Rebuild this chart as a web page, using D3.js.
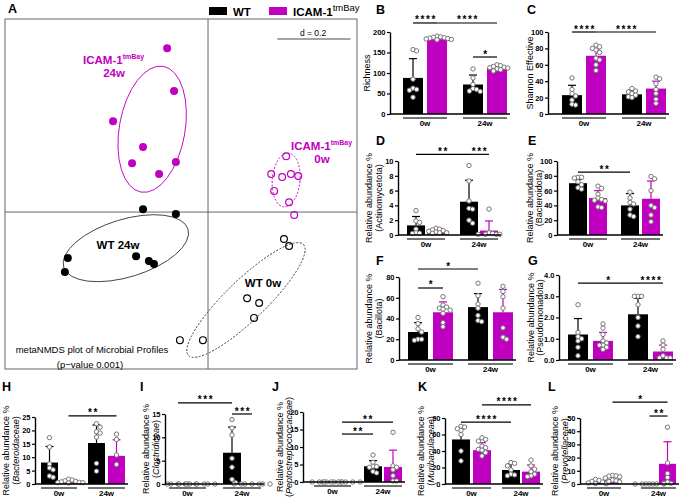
<!DOCTYPE html>
<html>
<head>
<meta charset="utf-8">
<script src="https://cdn.jsdelivr.net/npm/d3@7"></script>
<style>
  body { margin: 0; background: #fff; }
  svg { font-family: "Liberation Sans", Arial, sans-serif; }
</style>
</head>
<body>
<div id="chart"></div>
<script>
// colours
const MAG = "#c000c0";

// groups, left to right in every bar panel
const groups = ["WT 0w", "ICAM-1 0w", "WT 24w", "ICAM-1 24w"];
const timepoints = ["0w", "24w"];

// --- A: NMDS coordinates (x, y) ---
const nmdsIcam24 = [[-0.112, 0.449], [-0.093, 0.332], [-0.260, 0.249], [-0.178, 0.178], [-0.208, 0.134], [-0.088, 0.137], [-0.134, 0.104]];
const nmdsIcam0 = [[0.214, 0.153], [0.173, 0.104], [0.203, 0.096], [0.227, 0.104], [0.247, 0.099], [0.181, 0.058], [0.222, 0.027], [0.236, -0.008]];
const nmdsWt24 = [[-0.178, 0.008], [-0.088, -0.005], [-0.384, -0.126], [-0.392, -0.164], [-0.197, -0.121], [-0.162, -0.134], [-0.148, -0.142]];
const nmdsWt0 = [[0.208, -0.074], [0.222, -0.093], [0.107, -0.236], [0.140, -0.249], [0.126, -0.290], [-0.077, -0.351], [-0.014, -0.351]];
// ellipses: cx, cy, rx, ry, angle
const ellIcam24 = [-0.153, 0.227, 0.090, 0.175, 10];
const ellIcam0 = [0.214, 0.088, 0.038, 0.074, 5];
const ellWt24 = [-0.225, -0.099, 0.178, 0.079, -17];
const ellWt0 = [0.104, -0.241, 0.219, 0.055, -44];

// --- bar panels: mean, mean+SD, points ---
const richMean = [88, 185, 72, 112];
const richSd = [135, 189, 95, 117];
const richPts = [[157, 154, 85, 63, 41, 58, 60], [190, 188, 187, 186, 185, 184, 183, 182, 181], [110, 88, 72, 60, 55, 56, 62], [120, 118, 116, 114, 113, 112, 110, 108, 105]];

const shanMean = [23, 71, 24, 31];
const shanSd = [35, 78, 29, 40];
const shanPts = [[44, 25, 22, 17, 12, 11, 30], [84, 82, 80, 78, 75, 68, 66, 60, 53], [31, 28, 27, 25, 23, 21, 20], [45, 43, 37, 30, 25, 18, 13]];

const actiMean = [1.3, 0.5, 4.5, 0.6];
const actiSd = [2.5, 0.8, 7.4, 1.9];
const actiPts = [[3.3, 1.9, 1.7, 0.3, 0.25, 0.2, 0.8], [0.9, 0.8, 0.7, 0.6, 0.5, 0.4, 0.3, 0.3, 0.2], [9.4, 7.3, 4.6, 3.6, 3.5, 2.0, 1.6], [3.5, 0.3, 0.2, 0.1, 0.1, 0.1, 0.1]];

const bactMean = [70, 50, 40, 49];
const bactSd = [75, 60, 56, 73];
const bactPts = [[78, 78, 77, 68, 64, 62, 72], [66, 63, 55, 50, 48, 47, 46, 38, 37], [58, 50, 44, 42, 27, 25, 35], [79, 76, 60, 40, 37, 27, 18]];

const baciMean = [27, 46, 51, 46];
const baciSd = [36, 56, 64, 68];
const baciPts = [[41, 35, 30, 27, 20, 20, 19], [61, 53, 51, 50, 49, 48, 45, 36, 32], [74, 62, 54, 50, 43, 37, 38], [71, 66, 61, 50, 31, 22, 20]];

const pseuMean = [1.2, 0.9, 2.15, 0.4];
const pseuSd = [1.95, 1.3, 2.9, 0.7];
const pseuPts = [[2.6, 1.3, 1.1, 1.0, 0.9, 0.6, 0.2], [1.7, 1.5, 1.2, 0.9, 0.8, 0.7, 0.7, 0.6, 0.5], [3.0, 3.0, 3.0, 2.6, 2.0, 1.6, 1.1], [0.9, 0.7, 0.5, 0.1, 0.1, 0.1, 0.2]];

const bdaceMean = [8, 1, 15.3, 10.5];
const bdaceSd = [14, 1.4, 22, 16.5];
const bdacePts = [[17.3, 13.8, 7.5, 5.3, 3.0, 2.5, 6], [1.8, 1.5, 1.2, 1.0, 0.8, 0.6, 0.5, 0.5, 0.4], [22.5, 21.2, 19.5, 19.0, 17.5, 7.7, 4.8], [18.6, 16.6, 10.8, 7.3]];

const closMean = [0, 0, 6.7, 0];
const closSd = [0, 0, 12.2, 0];
const closPts = [[0, 0, 0, 0, 0, 0], [0, 0, 0, 0, 0, 0, 0], [13.8, 12, 10.5, 5.5, 3.6, 1.0, 0.3], [0, 0, 0, 0, 0, 0, 0]];

const peptMean = [0, 0, 4.5, 4.3];
const peptSd = [0, 0, 6.1, 9.1];
const peptPts = [[0, 0, 0, 0, 0, 0], [0, 0, 0, 0, 0, 0, 0], [7.7, 5.6, 4.5, 4.4, 4.2, 3.0, 2.6], [14.2, 4.6, 4.2, 3.5, 1.8, 0.3, 0.3]];

const muriMean = [54, 41, 17, 15];
const muriSd = [67, 50, 24, 23];
const muriPts = [[70, 69, 67, 65, 60, 40, 28], [56, 54, 52, 46, 44, 42, 41, 38, 34], [26, 25, 22, 17, 12, 11, 10], [29, 22, 18, 15, 12, 10, 9]];

const prevMean = [0.8, 3.5, 0, 15.3];
const prevSd = [1.8, 6, 0, 32];
const prevPts = [[3.5, 2.8, 2.0, 1.5, 0.8, 0.3, 0.2], [6.5, 6.2, 6.0, 5.5, 4.5, 3.0, 2.5, 2.0, 1.5], [0, 0, 0, 0, 0, 0, 0], [43, 16, 5, 1.5, 0.5, 0.5, 8]];

// significance: [from group, to group, label, height in axis units]
const richSig = [[0, 1, "****", 222], [1, 3, "****", 222], [2, 3, "*", 139]];
const shanSig = [[0, 1, "****", 100], [1, 3, "****", 100]];
const actiSig = [[0, 2, "**", 10.9], [2, 3, "***", 10.9]];
const bactSig = [[0, 2, "**", 85]];
const baciSig = [[0, 2, "*", 87.7], [0, 1, "*", 69.4]];
const pseuSig = [[0, 2, "*", 3.62], [2, 3, "****", 3.62]];
const bdaceSig = [[1, 3, "**", 25.4]];
const closSig = [[0, 2, "***", 17.4], [2, 3, "***", 15.0]];
const peptSig = [[1, 3, "**", 17.1], [1, 2, "**", 13.7]];
const muriSig = [[1, 3, "****", 95.8], [0, 2, "****", 75]];
const prevSig = [[1, 3, "*", 62], [2, 3, "**", 51.5]];

const svg = d3.select("#chart").append("svg")
  .attr("width", 685).attr("height", 499);

function letter(t, x, y) {
  svg.append("text").attr("x", x).attr("y", y)
    .attr("font-size", 12.5).attr("font-weight", "bold").text(t);
}

// ---------------- Panel A ----------------
letter("A", 8, 13);
const xA = d3.scaleLinear().domain([-0.556, 0.408]).range([5, 357]);
const yA = d3.scaleLinear().domain([-0.430, 0.529]).range([369, 19]);
const gA = svg.append("g");
gA.append("rect").attr("x", 5).attr("y", 19).attr("width", 352).attr("height", 350)
  .attr("fill", "none").attr("stroke", "#555").attr("stroke-width", 0.9);
gA.append("line").attr("x1", xA(0)).attr("x2", xA(0)).attr("y1", 19).attr("y2", 369)
  .attr("stroke", "#555").attr("stroke-width", 0.9);
gA.append("line").attr("x1", 5).attr("x2", 357).attr("y1", yA(0)).attr("y2", yA(0))
  .attr("stroke", "#555").attr("stroke-width", 0.9);

// scale bar
gA.append("line").attr("x1", xA(0.19)).attr("x2", xA(0.39)).attr("y1", 39).attr("y2", 39)
  .attr("stroke", "#333").attr("stroke-width", 0.9);
gA.append("text").attr("x", 313).attr("y", 36).attr("text-anchor", "middle")
  .attr("font-size", 8.5).text("d = 0.2");

function ellipse(e, color, dash) {
  const cx = xA(e[0]), cy = yA(e[1]);
  gA.append("ellipse").attr("cx", cx).attr("cy", cy)
    .attr("rx", xA(e[2]) - xA(0)).attr("ry", yA(0) - yA(e[3]))
    .attr("transform", `rotate(${e[4]},${cx},${cy})`)
    .attr("fill", "none").attr("stroke", color).attr("stroke-width", 0.9)
    .attr("stroke-dasharray", dash);
}
ellipse(ellIcam24, MAG, null);
ellipse(ellIcam0, MAG, "2,1.6");
ellipse(ellWt24, "#444", null);
ellipse(ellWt0, "#333", "2,1.6");

function dots(data, color, filled) {
  gA.append("g").selectAll("circle").data(data).join("circle")
    .attr("cx", d => xA(d[0])).attr("cy", d => yA(d[1]))
    .attr("r", filled ? 4 : 3.4)
    .attr("fill", filled ? color : "none")
    .attr("stroke", color).attr("stroke-width", filled ? 0 : 1.2);
}
dots(nmdsIcam24, MAG, true);
dots(nmdsWt24, "#000", true);
dots(nmdsIcam0, MAG, false);
dots(nmdsWt0, "#000", false);

function groupLabel(x, y, name, sup, color, anchor) {
  const t = gA.append("text").attr("x", x).attr("y", y).attr("fill", color)
    .attr("font-size", 11.5).attr("font-weight", "bold").attr("text-anchor", anchor || "start");
  t.append("tspan").text(name);
  if (sup) t.append("tspan").attr("font-size", 7).attr("dy", -5).text(sup);
  return t;
}
groupLabel(83, 64, "ICAM-1", "tmBay", MAG);
groupLabel(114, 77, "24w", null, MAG, "middle");
groupLabel(291, 150, "ICAM-1", "tmBay", MAG);
groupLabel(322, 163, "0w", null, MAG, "middle");
groupLabel(118, 249, "WT 24w", null, "#000", "middle");
groupLabel(263, 287, "WT 0w", null, "#000", "middle");

gA.append("text").attr("x", 92).attr("y", 353).attr("text-anchor", "middle")
  .attr("font-size", 9.5).text("metaNMDS plot of Microbial Profiles");
gA.append("text").attr("x", 90).attr("y", 368).attr("text-anchor", "middle")
  .attr("font-size", 9.5).text("(p\u2212value 0.001)");

// legend
svg.append("rect").attr("x", 209).attr("y", 7).attr("width", 18).attr("height", 8).attr("fill", "#000");
svg.append("text").attr("x", 233).attr("y", 16).attr("font-size", 11.5).attr("font-weight", "bold").text("WT");
svg.append("rect").attr("x", 269).attr("y", 7).attr("width", 18).attr("height", 8).attr("fill", MAG);
const lg = svg.append("text").attr("x", 293).attr("y", 16).attr("font-size", 11.5).attr("font-weight", "bold");
lg.append("tspan").text("ICAM-1");
lg.append("tspan").attr("font-size", 9.5).attr("font-weight", "normal").attr("dy", -5).text("tmBay");

// ---------------- bar panels ----------------
function barPanel(L, mean, sd, pts, sig) {
  const g = svg.append("g");
  const y = d3.scaleLinear().domain([0, L.max]).range([L.y0, L.yTop]);
  const cx = i => L.bars[i] + L.bw / 2;
  const col = i => (i % 2 ? MAG : "#000");

  g.selectAll("rect.bar").data(mean).join("rect").attr("class", "bar")
    .attr("x", (d, i) => L.bars[i]).attr("width", L.bw)
    .attr("y", d => y(d)).attr("height", d => L.y0 - y(d))
    .attr("fill", (d, i) => col(i));

  // error bars (upward SD)
  sd.forEach((s, i) => {
    if (s <= mean[i]) return;
    g.append("line").attr("x1", cx(i)).attr("x2", cx(i)).attr("y1", y(mean[i])).attr("y2", y(s))
      .attr("stroke", col(i)).attr("stroke-width", 1.2);
    g.append("line").attr("x1", cx(i) - 4).attr("x2", cx(i) + 4).attr("y1", y(s)).attr("y2", y(s))
      .attr("stroke", col(i)).attr("stroke-width", 1.2);
  });

  // scatter points, spread sideways when they overlap
  const r = 2.2, step = 3.6;
  pts.forEach((vals, i) => {
    const placed = [];
    vals.slice().sort((a, b) => b - a).forEach(v => {
      const py = y(v);
      for (let k = 0; k < 30; k++) {
        const off = (k % 2 ? 1 : -1) * Math.ceil(k / 2) * step;
        const px = cx(i) + off;
        if (placed.every(p => Math.hypot(p[0] - px, p[1] - py) >= step)) {
          placed.push([px, py]);
          break;
        }
      }
    });
    g.append("g").selectAll("circle").data(placed).join("circle")
      .attr("cx", d => d[0]).attr("cy", d => d[1]).attr("r", r)
      .attr("fill", "#fff").attr("stroke", "#777").attr("stroke-width", 1);
  });

  // y axis
  const ya = g.append("g").attr("transform", `translate(${L.ax},0)`)
    .call(d3.axisLeft(y).tickValues(d3.range(0, L.max + 1e-9, L.step)).tickSize(3).tickSizeOuter(0).tickPadding(1.5));
  ya.select(".domain").attr("stroke-width", 1.4);
  ya.selectAll(".tick line").attr("stroke-width", 1.2);
  ya.selectAll(".tick text").attr("font-size", 7.5).attr("font-weight", "bold")
    .attr("font-family", "Liberation Sans, Arial, sans-serif");

  // x baseline
  g.append("line").attr("x1", L.ax).attr("x2", L.bars[3] + L.bw + 3)
    .attr("y1", L.y0).attr("y2", L.y0).attr("stroke", "#000").attr("stroke-width", 1.4);

  // timepoint groups
  timepoints.forEach((t, k) => {
    const x1 = L.bars[2 * k], x2 = L.bars[2 * k + 1] + L.bw;
    g.append("line").attr("x1", x1).attr("x2", x2).attr("y1", L.y0 + 4).attr("y2", L.y0 + 4)
      .attr("stroke", "#444").attr("stroke-width", 1.4);
    g.append("text").attr("x", (x1 + x2) / 2).attr("y", L.y0 + 12).attr("text-anchor", "middle")
      .attr("font-size", 8).attr("font-weight", "bold").text(t);
  });

  // y label
  const yc = (L.y0 + L.yTop) / 2;
  L.label.forEach((s, k) => {
    const t = g.append("text")
      .attr("transform", `translate(${L.lx[k]},${yc}) rotate(-90)`)
      .attr("dy", "0.35em").attr("text-anchor", "middle").attr("font-size", 9);
    if (k === 1 && L.italic) {
      t.append("tspan").text("(");
      t.append("tspan").attr("font-style", "italic").text(s.slice(1, -1));
      t.append("tspan").text(")");
    } else t.text(s);
  });

  // significance brackets
  sig.forEach(s => {
    const ly = y(s[3]);
    g.append("line").attr("x1", cx(s[0])).attr("x2", cx(s[1])).attr("y1", ly).attr("y2", ly)
      .attr("stroke", "#000").attr("stroke-width", 1.2);
    g.append("text").attr("x", (cx(s[0]) + cx(s[1])) / 2 + 1).attr("y", ly + 0.5)
      .attr("text-anchor", "middle").attr("font-size", 10).attr("font-weight", "bold")
      .attr("letter-spacing", 1.6).text(s[2]);
  });

  letter(L.letter[0], L.letter[1], L.letter[2]);
}

const RA = "Relative abundance %";
barPanel({letter: ["B", 376, 14], ax: 390, y0: 114, yTop: 32, max: 200, step: 50, bars: [403, 427, 463, 487], bw: 20, label: ["Richness"], lx: [367]}, richMean, richSd, richPts, richSig);
barPanel({letter: ["C", 527, 14], ax: 548, y0: 114, yTop: 32, max: 100, step: 20, bars: [562, 586, 622, 646], bw: 20, label: ["Shannon Effective"], lx: [530]}, shanMean, shanSd, shanPts, shanSig);
barPanel({letter: ["D", 376, 145], ax: 398, y0: 235, yTop: 161, max: 10, step: 2, bars: [407, 427, 460, 480], bw: 18, label: [RA, "(Actinomycetota)"], lx: [369, 379]}, actiMean, actiSd, actiPts, actiSig);
barPanel({letter: ["E", 528, 145], ax: 557, y0: 235, yTop: 161, max: 100, step: 20, bars: [569, 589, 621, 642], bw: 18, label: [RA, "(Bacteroidota)"], lx: [530, 539]}, bactMean, bactSd, bactPts, bactSig);
barPanel({letter: ["F", 376, 265], ax: 399, y0: 360, yTop: 277, max: 80, step: 20, bars: [408, 433, 468, 493], bw: 20, label: [RA, "(Bacillota)"], lx: [369, 379]}, baciMean, baciSd, baciPts, baciSig);
barPanel({letter: ["G", 528, 265], ax: 559, y0: 360, yTop: 275, max: 4, step: 1, bars: [568, 593, 628, 653], bw: 20, label: [RA, "(Pseudomonadota)"], lx: [531, 540]}, pseuMean, pseuSd, pseuPts, pseuSig);
barPanel({letter: ["H", 2, 391], ax: 35, y0: 484, yTop: 417, max: 25, step: 5, bars: [41, 60, 88, 108], bw: 17, label: [RA, "(Bacteroidaceae)"], lx: [6, 16], italic: true}, bdaceMean, bdaceSd, bdacePts, bdaceSig);
barPanel({letter: ["I", 140, 391], ax: 165, y0: 484, yTop: 414, max: 15, step: 5, bars: [169, 188, 223, 243], bw: 18, label: [RA, "(Clostridiceae)"], lx: [146, 156], italic: true}, closMean, closSd, closPts, closSig);
barPanel({letter: ["J", 272, 391], ax: 303, y0: 482, yTop: 412, max: 20, step: 5, bars: [314, 333, 364, 384], bw: 18, label: [RA, "(Peptostreptococcaceae)"], lx: [280, 289], italic: true}, peptMean, peptSd, peptPts, peptSig);
barPanel({letter: ["K", 418, 391], ax: 445, y0: 484, yTop: 418, max: 80, step: 20, bars: [452, 473, 502, 522], bw: 18, label: [RA, "(Muribaculaceae)"], lx: [421, 431], italic: true}, muriMean, muriSd, muriPts, muriSig);
barPanel({letter: ["L", 548, 391], ax: 580, y0: 484, yTop: 418, max: 50, step: 10, bars: [587, 604, 641, 659], bw: 17, label: [RA, "(Prevotellaceae)"], lx: [555, 565], italic: true}, prevMean, prevSd, prevPts, prevSig);
</script>
</body>
</html>
